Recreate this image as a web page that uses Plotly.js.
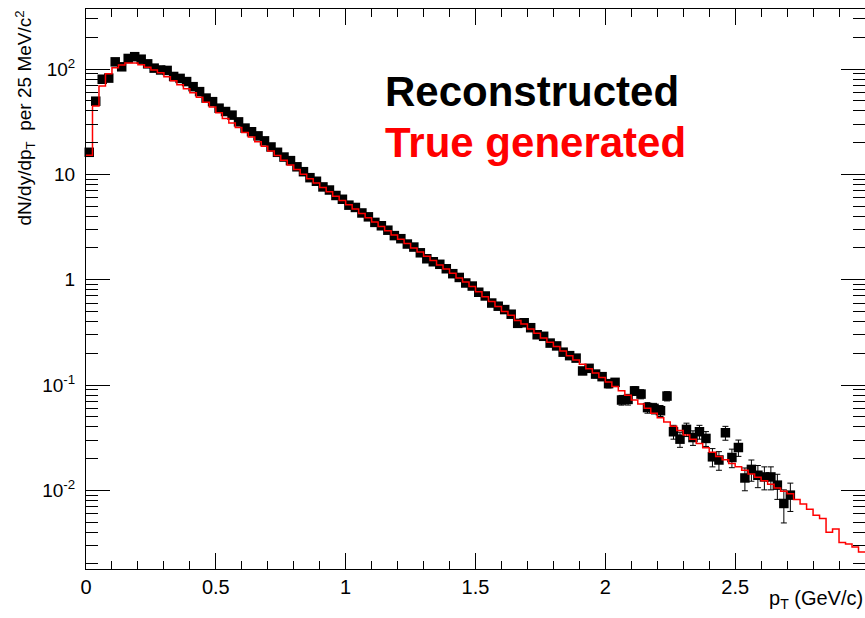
<!DOCTYPE html>
<html>
<head>
<meta charset="utf-8">
<script src="https://cdn.plot.ly/plotly-3.0.1.min.js"></script>
<style>
  html, body { margin: 0; padding: 0; background: #ffffff; }
  #chart { width: 865px; height: 618px; }
</style>
</head>
<body>
<div id="chart"></div>
<script>
// pT binning: 25 MeV/c bins from 0 to 3 GeV/c
const binWidth = 0.025;
const ptMax = 3.0;

// True generated spectrum, one value per bin (120 bins)
const trueGenerated = [
  15.2, 44.5, 69, 90, 103, 109, 114, 114, 110, 104,
  98, 92, 84.5, 77.5, 71, 65, 59.5, 54, 48.5, 43.5,
  38.5, 34, 30.8, 27.8, 25, 22.6, 20.4, 18.5, 16.7, 15.1,
  13.6, 12.3, 11.1, 10.0, 9.1, 8.3, 7.5, 6.85, 6.2, 5.65,
  5.15, 4.7, 4.25, 3.87, 3.52, 3.2, 2.92, 2.66, 2.42, 2.2,
  2.0, 1.83, 1.67, 1.52, 1.38, 1.26, 1.15, 1.04, 0.95, 0.86,
  0.77, 0.69, 0.62, 0.555, 0.50, 0.46, 0.41, 0.38, 0.34, 0.31,
  0.28, 0.255, 0.232, 0.21, 0.19, 0.173, 0.157, 0.143, 0.13, 0.118,
  0.107, 0.097, 0.088, 0.080, 0.072, 0.066, 0.060, 0.054, 0.049, 0.0445,
  0.0405, 0.037, 0.0335, 0.0305, 0.0278, 0.0253, 0.023, 0.021, 0.0195, 0.018,
  0.0167, 0.0155, 0.0143, 0.0133, 0.0123, 0.0114, 0.0105, 0.0098, 0.0093, 0.0082,
  0.0074, 0.0066, 0.0058, 0.0054, 0.0040, 0.0043, 0.0032, 0.0031, 0.0029, 0.0026
];

// Reconstructed yield per bin (first 109 bins) and its statistical error
const reconstructed = [
  16.2, 49.5, 80, 82, 117, 105, 126, 131, 124, 112,
  102, 98, 97, 85, 81.5, 76, 68, 61, 53, 49,
  42.5, 39.5, 36.5, 31.5, 27.5, 25.4, 23.2, 20.8, 18.2, 16.2,
  14.6, 13.5, 11.8, 10.6, 9.3, 8.6, 7.6, 7.1, 6.3, 5.8,
  5.1, 4.85, 4.3, 3.95, 3.5, 3.25, 2.95, 2.62, 2.45, 2.18,
  2.04, 1.8, 1.58, 1.48, 1.40, 1.27, 1.14, 1.05, 0.93, 0.87,
  0.76, 0.70, 0.60, 0.56, 0.52, 0.47, 0.385, 0.39, 0.35, 0.30,
  0.29, 0.25, 0.235, 0.205, 0.19, 0.18, 0.136, 0.144, 0.127, 0.12,
  0.103, 0.106, 0.072, 0.073, 0.088, 0.082, 0.061, 0.060, 0.057, 0.0785,
  0.036, 0.0306, 0.0379, 0.0317, 0.036, 0.0311, 0.0208, 0.0194, 0.0352, 0.0205,
  0.0255, 0.0131, 0.0158, 0.0139, 0.0134, 0.0134, 0.0112, 0.0075, 0.0090
];
const reconstructedErr = [
  0.11, 0.20, 0.25, 0.26, 0.31, 0.29, 0.32, 0.32, 0.32, 0.30,
  0.29, 0.28, 0.28, 0.26, 0.26, 0.25, 0.23, 0.22, 0.21, 0.20,
  0.18, 0.18, 0.17, 0.16, 0.15, 0.14, 0.14, 0.13, 0.12, 0.11,
  0.11, 0.10, 0.097, 0.092, 0.086, 0.083, 0.078, 0.075, 0.071, 0.068,
  0.064, 0.062, 0.059, 0.056, 0.053, 0.051, 0.049, 0.046, 0.044, 0.042,
  0.040, 0.038, 0.036, 0.034, 0.033, 0.032, 0.030, 0.029, 0.027, 0.026,
  0.025, 0.024, 0.022, 0.021, 0.020, 0.019, 0.018, 0.018, 0.017, 0.016,
  0.015, 0.014, 0.014, 0.013, 0.012, 0.012, 0.0104, 0.0107, 0.0101, 0.0098,
  0.0091, 0.0092, 0.0076, 0.0085, 0.0084, 0.0081, 0.0070, 0.0069, 0.0068, 0.0079,
  0.0054, 0.0050, 0.0055, 0.0050, 0.0054, 0.0050, 0.0041, 0.0039, 0.0053, 0.0041,
  0.0045, 0.0032, 0.0036, 0.0033, 0.0033, 0.0033, 0.0030, 0.0026, 0.0027
];

// Axis tick labels
const xTickVals = [0, 0.5, 1, 1.5, 2, 2.5];
const xTickText = ['0', '0.5', '1', '1.5', '2', '2.5'];
const yTickVals = [0.01, 0.1, 1, 10, 100];
const yTickText = ['10<sup>-2</sup>', '10<sup>-1</sup>', '1', '10', '10<sup>2</sup>'];

// Bin centres for the points, bin edges for the step histogram
const centres = reconstructed.map((_, i) => (i + 0.5) * binWidth);
const edges = trueGenerated.map((_, i) => i * binWidth).concat([ptMax]);
const histY = trueGenerated.concat([trueGenerated[trueGenerated.length - 1]]);

const FONT = '"Liberation Sans", Arial, Helvetica, sans-serif';

const traces = [
  {
    type: 'scatter',
    mode: 'markers',
    x: centres,
    y: reconstructed,
    cliponaxis: false,
    marker: { symbol: 'square', size: 9.5, color: '#000000', line: { width: 0 } },
    error_y: { type: 'data', array: reconstructedErr, visible: true, color: '#000000', thickness: 1, width: 3 },
    showlegend: false
  },
  {
    type: 'scatter',
    mode: 'lines',
    x: edges,
    y: histY,
    line: { shape: 'hv', color: '#ff0000', width: 1.5 },
    showlegend: false
  }
];

const axisCommon = {
  showline: true,
  linecolor: '#000000',
  linewidth: 1,
  mirror: 'ticks',
  ticks: 'inside',
  tickcolor: '#000000',
  tickwidth: 1,
  showgrid: false,
  zeroline: false,
  tickfont: { family: FONT, size: 19, color: '#000000' }
};

const layout = {
  width: 865,
  height: 618,
  margin: { l: 86, r: 0, t: 9, b: 49 },
  paper_bgcolor: '#ffffff',
  plot_bgcolor: '#ffffff',
  font: { family: FONT, color: '#000000' },
  xaxis: Object.assign({}, axisCommon, {
    range: [0, ptMax],
    tickmode: 'array',
    tickvals: xTickVals,
    ticktext: xTickText,
    ticklen: 16,
    tickfont: { family: FONT, size: 20, color: '#000000' },
    minor: { tickmode: 'linear', tick0: 0, dtick: 0.1, ticks: 'inside', ticklen: 8, tickcolor: '#000000', tickwidth: 1, showgrid: false }
  }),
  yaxis: Object.assign({}, axisCommon, {
    type: 'log',
    range: [-2.747, 2.570],
    tickmode: 'array',
    tickvals: yTickVals,
    ticktext: yTickText,
    ticklen: 24,
    ticklabelstandoff: 6,
    minor: { dtick: 'D1', ticks: 'inside', ticklen: 12, tickcolor: '#000000', tickwidth: 1, showgrid: false }
  }),
  annotations: [
    {
      xref: 'paper', yref: 'paper', x: 0, y: 1,
      xshift: -61, xanchor: 'center', yanchor: 'top',
      textangle: -90, showarrow: false,
      text: 'dN/dy/dp<sub>T</sub>&nbsp; per 25 MeV/c<sup>2</sup>',
      font: { family: FONT, size: 19, color: '#000000' }
    },
    {
      xref: 'paper', yref: 'paper', x: 1, y: 0,
      yshift: -16, xanchor: 'right', yanchor: 'top',
      showarrow: false,
      text: 'p<sub>T</sub> (GeV/c)',
      font: { family: FONT, size: 20, color: '#000000' }
    },
    {
      xref: 'paper', yref: 'paper', x: 0.381, y: 0.852,
      xanchor: 'left', yanchor: 'middle', showarrow: false,
      text: '<b>Reconstructed</b>',
      font: { family: FONT, size: 42, color: '#000000' }
    },
    {
      xref: 'paper', yref: 'paper', x: 0.381, y: 0.761,
      xanchor: 'left', yanchor: 'middle', showarrow: false,
      text: '<b>True generated</b>',
      font: { family: FONT, size: 42, color: '#ff0000' }
    }
  ]
};

Plotly.newPlot('chart', traces, layout, { staticPlot: true, displayModeBar: false });
</script>
</body>
</html>
